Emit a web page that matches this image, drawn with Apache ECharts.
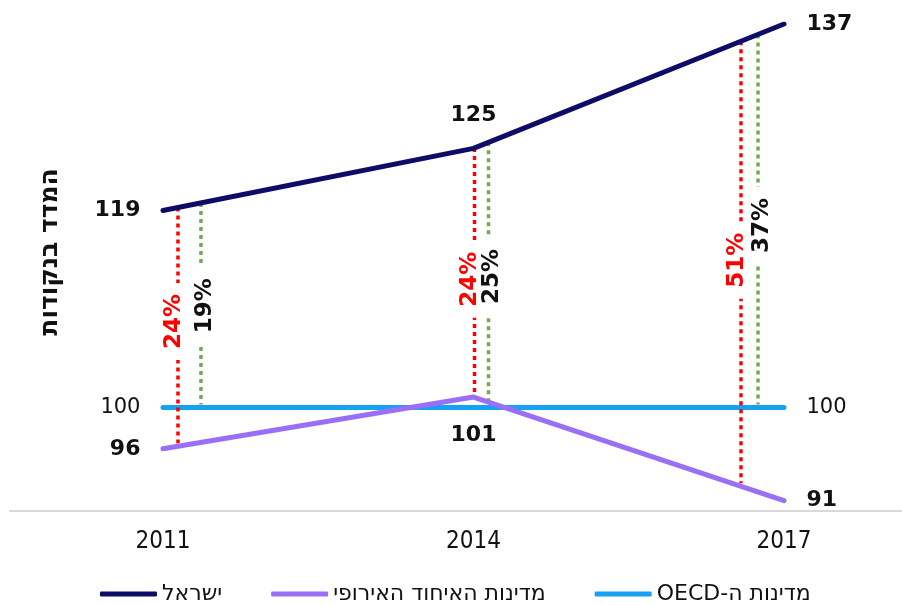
<!DOCTYPE html>
<html>
<head>
<meta charset="utf-8">
<script src="https://cdn.jsdelivr.net/npm/echarts@6/dist/echarts.min.js"></script>
<style>
html,body{margin:0;padding:0;background:#fff;}
#chart{width:902px;height:605px;direction:rtl;}
</style>
</head>
<body>
<div id="chart"></div>
<script>
// ---- data ----
const years = [2011, 2014, 2017];
const israel = [119, 125, 137];
const eu = [96, 101, 91];
const oecd = [100, 100, 100];
const gapVsEU = ['24%', '24%', '51%'];
const gapVsOECD = ['19%', '25%', '37%'];
const seriesNames = ['ישראל', 'מדינות האיחוד האירופי', 'מדינות ה-OECD'];
const yTitle = 'המדד בנקודות';

// ---- style ----
const C_ISR = '#0d0d68', C_EU = '#9b6ff5', C_OECD = '#16a2f2';
const C_RED = '#ff0000', C_GREEN = '#78a94e';
const redDx = [15, 1, -43];
const greenDx = [38, 15, -26];
const NUM_FONT = '"DejaVu Sans", sans-serif';

const chart = echarts.init(document.getElementById('chart'));

function lineSeries(name, vals, color, positions, bold, z) {
  return {
    name: name,
    type: 'line',
    z: z,
    symbol: 'circle',
    symbolSize: 1,
    color: color,
    lineStyle: { color: color, width: 5, cap: 'round', join: 'round' },
    itemStyle: { color: color },
    emphasis: { disabled: true },
    data: years.map(function (y, i) {
      const p = positions[i];
      return {
        value: [y, vals[i]],
        label: {
          show: p != null,
          position: p || 'top',
          distance: p === 'top' ? 22 : (p === 'bottom' ? 27 : 22),
          formatter: String(vals[i]),
          color: '#111',
          fontFamily: NUM_FONT,
          fontWeight: bold ? 'bold' : 'normal',
          fontSize: bold ? 22 : 21
        }
      };
    })
  };
}

function yAt(api, vals, i, dx) {
  const p = api.coord([years[i], vals[i]]);
  const j = dx >= 0 ? i + 1 : i - 1;
  if (j < 0 || j >= years.length || dx === 0) return p[1];
  const q = api.coord([years[j], vals[j]]);
  return p[1] + (q[1] - p[1]) * (dx / (q[0] - p[0]));
}

function gapItem(x, yTop, yBot, color, text, textColor, tdx, tdy) {
  return [
    { type: 'line', shape: { x1: x, y1: yTop, x2: x, y2: yBot },
      style: { stroke: color, lineWidth: 3.5, lineDash: [4, 4] } },
    { type: 'text', x: x + tdx, y: (yTop + yBot) / 2 + tdy, rotation: Math.PI / 2,
      style: { text: text, fill: textColor, font: 'bold 23px ' + NUM_FONT,
        align: 'center', verticalAlign: 'middle',
        backgroundColor: '#fff', padding: [0, 11], lineHeight: 22 } }
  ];
}

const redTextDy = [-4, 8, -2];
const greenTextDy = [2, 3, 6];

const option = {
  backgroundColor: '#fff',
  animation: false,
  grid: { left: 10, right: 0, top: 24, bottom: 94, containLabel: false },
  xAxis: {
    type: 'value',
    min: 2009.522,
    max: 2018.14,
    splitLine: { show: false },
    axisTick: { show: false },
    axisLine: { show: true, lineStyle: { color: '#d9d9d9', width: 2 } },
    axisLabel: {
      customValues: years,
      formatter: function (v) { return String(v); },
      margin: 19,
      color: '#111',
      fontFamily: '"DejaVu Sans Condensed", "DejaVu Sans", sans-serif',
      fontSize: 24
    }
  },
  yAxis: {
    type: 'value',
    min: 90,
    max: 137,
    show: false,
    splitLine: { show: false }
  },
  legend: {
    left: 95,
    top: 578,
    itemWidth: 57,
    itemHeight: 5,
    itemGap: 49,
    icon: 'roundRect',
    data: [seriesNames[0], seriesNames[1], seriesNames[2]],
    textStyle: { color: '#111', fontSize: 22, fontFamily: '"DejaVu Sans", sans-serif' }
  },
  graphic: [{
    type: 'text', x: 50, y: 252, rotation: Math.PI / 2,
    style: { text: yTitle, fill: '#111', font: 'bold 25px "DejaVu Sans", sans-serif',
      align: 'center', verticalAlign: 'middle' }
  }],
  series: [
    lineSeries(seriesNames[2], oecd, C_OECD, ['left', null, 'right'], false, 2),
    {
      type: 'custom',
      z: 3,
      silent: true,
      data: years.map(function (y, i) { return [y, israel[i], eu[i], oecd[i]]; }),
      encode: { x: 0, y: [1, 2, 3] },
      renderItem: function (params, api) {
        const i = params.dataIndex;
        const xc = api.coord([years[i], israel[i]])[0];
        const xr = xc + redDx[i], xg = xc + greenDx[i];
        const rTop = yAt(api, israel, i, redDx[i]), rBot = yAt(api, eu, i, redDx[i]) - 3;
        const gTop = yAt(api, israel, i, greenDx[i]), gBot = yAt(api, oecd, i, greenDx[i]) - 3;
        return {
          type: 'group',
          children: gapItem(xr, rTop, rBot, C_RED, gapVsEU[i], C_RED, -4, redTextDy[i])
            .concat(gapItem(xg, gTop, gBot, C_GREEN, gapVsOECD[i], '#111', 4, greenTextDy[i]))
        };
      }
    },
    lineSeries(seriesNames[1], eu, C_EU, ['left', 'bottom', 'right'], true, 4),
    lineSeries(seriesNames[0], israel, C_ISR, ['left', 'top', 'right'], true, 5)
  ]
};
chart.setOption(option);
</script>
</body>
</html>
